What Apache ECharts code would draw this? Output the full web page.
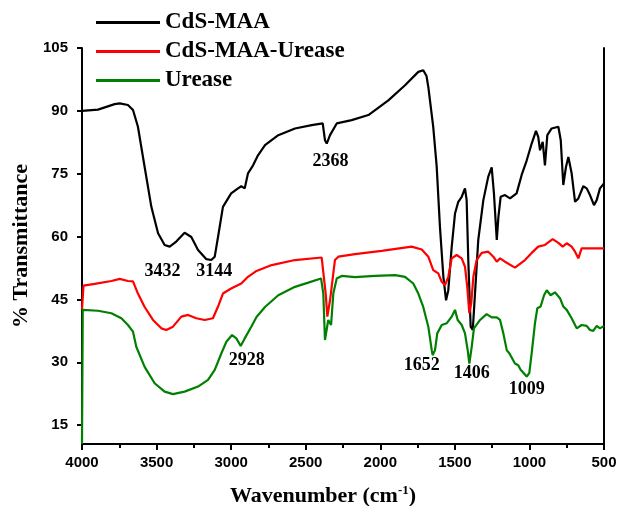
<!DOCTYPE html>
<html>
<head>
<meta charset="utf-8">
<script src="https://cdn.jsdelivr.net/npm/echarts@6/dist/echarts.min.js"></script>
<style>
  html, body { margin: 0; padding: 0; background: #fff; }
  #chart { width: 621px; height: 506px; }
</style>
</head>
<body>
<div id="chart"></div>
<script>
// FTIR spectra: wavenumber (cm-1) and % transmittance for each sample
const seriesNames = ['CdS-MAA', 'CdS-MAA-Urease', 'Urease'];

const cdsMaaWn = [4000, 3893, 3781, 3747, 3692, 3658, 3625, 3580, 3535, 3490, 3446, 3412, 3368, 3312, 3267, 3222, 3166, 3133, 3110, 3088, 3055, 3000, 2954, 2932, 2909, 2887, 2853, 2820, 2773, 2684, 2572, 2460, 2386, 2371, 2359, 2337, 2292, 2192, 2080, 1946, 1834, 1745, 1712, 1690, 1678, 1645, 1622, 1600, 1577, 1559, 1544, 1521, 1499, 1477, 1454, 1432, 1421, 1410, 1394, 1380, 1365, 1343, 1309, 1276, 1253, 1238, 1219, 1208, 1193, 1164, 1130, 1086, 1052, 1018, 985, 956, 941, 929, 911, 896, 880, 851, 806, 790, 773, 755, 739, 717, 694, 672, 639, 616, 594, 567, 549, 527, 500];
const cdsMaaT = [90.0, 90.3, 91.6, 91.8, 91.4, 90.2, 86.2, 76.6, 67.1, 60.8, 58.0, 57.6, 58.8, 60.9, 59.9, 56.8, 54.6, 54.4, 55.2, 59.9, 67.1, 70.3, 71.5, 72.0, 71.5, 75.1, 77.0, 79.4, 81.8, 84.2, 85.8, 86.6, 87.0, 83.0, 82.2, 84.2, 87.0, 87.8, 89.0, 92.5, 96.1, 99.3, 99.7, 98.3, 95.7, 86.2, 76.8, 62.3, 50.4, 44.8, 47.2, 57.6, 65.5, 68.3, 69.5, 71.5, 68.7, 54.4, 38.5, 37.7, 46.4, 59.2, 68.7, 74.3, 76.5, 70.3, 59.2, 64.7, 69.5, 69.9, 69.1, 70.3, 74.7, 78.2, 82.2, 85.2, 83.8, 80.6, 82.6, 77.0, 84.2, 85.8, 86.2, 83.0, 72.3, 76.6, 79.0, 75.1, 68.3, 69.1, 72.0, 71.5, 69.9, 67.5, 68.7, 71.5, 72.7];

const cdsMaaUreaseWn = [4000, 3990, 3915, 3803, 3747, 3692, 3658, 3625, 3580, 3524, 3468, 3435, 3390, 3334, 3289, 3234, 3177, 3122, 3088, 3055, 3000, 2932, 2887, 2830, 2728, 2572, 2393, 2382, 2366, 2355, 2337, 2315, 2304, 2281, 2170, 1991, 1790, 1722, 1678, 1645, 1611, 1588, 1566, 1544, 1521, 1488, 1454, 1432, 1417, 1403, 1390, 1376, 1354, 1320, 1276, 1242, 1219, 1197, 1164, 1097, 1030, 985, 941, 896, 844, 806, 777, 750, 717, 694, 672, 650, 594, 500];
const cdsMaaUreaseT = [42.6, 48.3, 48.7, 49.4, 49.9, 49.4, 49.3, 46.4, 43.2, 40.1, 38.1, 37.7, 38.5, 40.9, 41.3, 40.5, 40.1, 40.5, 43.3, 46.4, 47.6, 48.8, 50.4, 51.8, 53.2, 54.4, 55.0, 54.6, 46.4, 40.9, 44.8, 51.2, 54.4, 55.2, 55.8, 56.6, 57.6, 56.9, 55.2, 52.0, 51.2, 49.2, 48.4, 50.4, 54.8, 55.6, 54.8, 52.8, 48.0, 41.7, 44.1, 50.4, 54.4, 56.1, 56.4, 55.2, 54.0, 54.8, 54.0, 52.6, 54.4, 56.1, 57.6, 58.0, 59.4, 58.5, 57.6, 58.4, 57.6, 56.4, 54.8, 57.2, 57.2, 57.2];

const ureaseWn = [4000, 3995, 3893, 3803, 3736, 3692, 3658, 3636, 3580, 3513, 3446, 3390, 3312, 3222, 3155, 3110, 3066, 3032, 2994, 2965, 2936, 2909, 2865, 2830, 2773, 2684, 2572, 2483, 2397, 2382, 2371, 2359, 2349, 2330, 2315, 2292, 2259, 2170, 2035, 1901, 1834, 1779, 1745, 1712, 1678, 1655, 1649, 1633, 1618, 1588, 1555, 1521, 1499, 1481, 1454, 1432, 1414, 1403, 1387, 1372, 1331, 1287, 1253, 1219, 1197, 1175, 1152, 1134, 1097, 1075, 1059, 1018, 1001, 985, 963, 947, 925, 902, 884, 858, 829, 795, 773, 750, 717, 683, 650, 616, 594, 572, 549, 527, 500];
const ureaseT = [10.5, 42.5, 42.3, 41.7, 40.5, 38.9, 37.3, 33.7, 28.9, 25.0, 23.0, 22.4, 23.0, 24.2, 25.8, 28.2, 32.1, 34.9, 36.5, 35.7, 33.9, 35.7, 38.5, 40.8, 43.2, 46.0, 48.0, 49.0, 50.0, 46.4, 35.3, 34.9, 40.1, 38.9, 46.4, 50.0, 50.6, 50.3, 50.6, 50.8, 50.4, 48.8, 46.4, 43.2, 38.5, 32.9, 31.7, 32.9, 36.9, 38.9, 39.3, 40.9, 42.5, 40.1, 38.9, 36.9, 32.9, 29.7, 33.7, 38.1, 40.1, 41.5, 40.7, 40.7, 40.1, 36.9, 32.9, 32.1, 29.7, 29.3, 28.2, 26.6, 27.4, 32.1, 39.3, 42.9, 43.3, 46.0, 47.2, 46.0, 46.7, 45.3, 43.3, 42.5, 40.5, 38.1, 38.9, 38.7, 37.7, 37.5, 38.7, 38.1, 38.7];

// Peak annotations: text and its anchor in data units [wavenumber, transmittance]
const cdsMaaPeaks = [['3432', 3460, 51.6], ['3144', 3114, 51.6], ['2368', 2334, 78.0]];
const ureasePeaks = [['2928', 2896, 30.5], ['1652', 1722, 29.3], ['1406', 1387, 27.4], ['1009', 1018, 23.6]];

// Axis ranges and tick labels
const xMin = 500, xMax = 4000, xStep = 500;
const yMin = 10.5, yMax = 105;
const yTicks = [15, 30, 45, 60, 75, 90, 105];

const colors = ['#000000', '#ff0000', '#008000'];
const serif = 'Liberation Serif, Times New Roman, serif';
const sans = 'Liberation Sans, Arial, sans-serif';

function zip(xs, ys) { return xs.map((x, i) => [x, ys[i]]); }

function peakMarks(peaks) {
  return {
    symbol: 'circle',
    symbolSize: 1,
    itemStyle: { color: 'rgba(0,0,0,0)' },
    label: {
      show: true, position: 'inside', formatter: '{b}',
      color: '#000', fontFamily: serif, fontWeight: 'bold', fontSize: 18
    },
    data: peaks.map(p => ({ name: p[0], coord: [p[1], p[2]] }))
  };
}

function lineSeries(name, data, color, marks) {
  const s = {
    name: name, type: 'line', data: data, showSymbol: false, symbol: 'none',
    lineStyle: { color: color, width: 2.2 }, itemStyle: { color: color },
    animation: false, z: 2
  };
  if (marks) s.markPoint = marks;
  return s;
}

const chart = echarts.init(document.getElementById('chart'), null, { renderer: 'canvas' });
chart.setOption({
  backgroundColor: '#ffffff',
  animation: false,
  grid: { left: 82, right: 17, top: 48, bottom: 62, outerBoundsMode: 'none', containLabel: false },
  legend: {
    data: seriesNames,
    orient: 'vertical', left: 96, top: 11, padding: 0,
    icon: 'rect', itemWidth: 64, itemHeight: 3, itemGap: 6,
    textStyle: { fontFamily: serif, fontWeight: 'bold', fontSize: 23, lineHeight: 23, color: '#000' }
  },
  xAxis: {
    type: 'value', inverse: true, min: xMin, max: xMax, interval: xStep,
    name: 'Wavenumber (cm{sup|-1})',
    nameLocation: 'middle', nameGap: 40,
    nameTextStyle: {
      fontFamily: serif, fontWeight: 'bold', fontSize: 22, color: '#000',
      padding: [0, 40, 0, 0],
      rich: { sup: { fontFamily: serif, fontWeight: 'bold', fontSize: 13, verticalAlign: 'top', padding: [0, 0, 12, 0] } }
    },
    axisLine: { show: true, onZero: false, lineStyle: { color: '#000', width: 2 } },
    axisTick: { show: true, inside: false, length: 6, lineStyle: { color: '#000', width: 2 } },
    minorTick: { show: true, splitNumber: 2, length: 4, lineStyle: { color: '#000', width: 2 } },
    axisLabel: {
      fontFamily: sans, fontWeight: 'bold', fontSize: 15, color: '#000', margin: 11,
      formatter: v => String(v)
    },
    splitLine: { show: false }
  },
  yAxis: [{
    type: 'value', min: yMin, max: yMax,
    name: '% Transmittance', nameLocation: 'middle', nameGap: 50, nameRotate: 90,
    nameTextStyle: { fontFamily: serif, fontWeight: 'bold', fontSize: 22, color: '#000' },
    axisLine: { show: true, onZero: false, lineStyle: { color: '#000', width: 2 } },
    axisTick: { show: true, inside: false, length: 5, customValues: yTicks, lineStyle: { color: '#000', width: 2 } },
    axisLabel: { fontFamily: sans, fontWeight: 'bold', fontSize: 15, color: '#000', margin: 14, customValues: yTicks },
    splitLine: { show: false }
  }, {
    type: 'value', position: 'right', min: yMin, max: yMax,
    axisLine: { show: true, onZero: false, lineStyle: { color: '#000', width: 2 } },
    axisTick: { show: false }, axisLabel: { show: false }, splitLine: { show: false }
  }],
  series: [
    lineSeries(seriesNames[0], zip(cdsMaaWn, cdsMaaT), colors[0], peakMarks(cdsMaaPeaks)),
    lineSeries(seriesNames[1], zip(cdsMaaUreaseWn, cdsMaaUreaseT), colors[1]),
    lineSeries(seriesNames[2], zip(ureaseWn, ureaseT), colors[2], peakMarks(ureasePeaks))
  ]
});
</script>
</body>
</html>
